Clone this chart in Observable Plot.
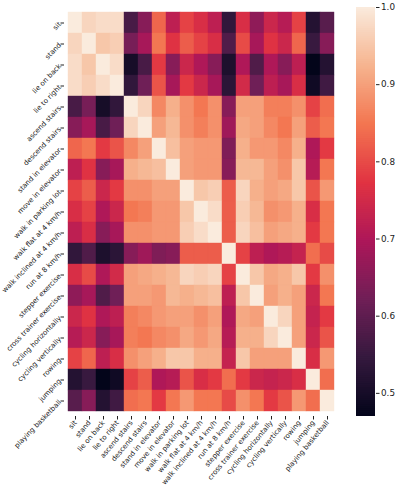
<!DOCTYPE html>
<html>
<head>
<meta charset="utf-8">
<script src="https://cdn.jsdelivr.net/npm/d3@7"></script>
<script src="https://cdn.jsdelivr.net/npm/@observablehq/plot@0.6"></script>
<style>
  body { margin: 0; background: #fff; }
  #wrap { position: relative; width: 399px; height: 489px; }
  #wrap svg { position: absolute; left: 0; top: 0; }
</style>
</head>
<body>
<div id="wrap"></div>
<script>
const labels = ["sit", "stand", "lie on back", "lie to right", "ascend stairs", "descend stairs",
  "stand in elevator", "move in elevator", "walk in parking lot", "walk flat at 4 km/h",
  "walk inclined at 4 km/h", "run at 8 km/h", "stepper exercise", "cross trainer exercise",
  "cycling horizontally", "cycling vertically", "rowing", "jumping", "playing basketball"];

const corr = [
  [1.00, 0.97, 0.98, 0.98, 0.57, 0.65, 0.83, 0.72, 0.79, 0.76, 0.72, 0.54, 0.76, 0.66, 0.74, 0.71, 0.79, 0.52, 0.59],
  [0.97, 1.00, 0.95, 0.96, 0.63, 0.69, 0.85, 0.77, 0.82, 0.79, 0.76, 0.58, 0.80, 0.69, 0.77, 0.74, 0.83, 0.55, 0.65],
  [0.98, 0.95, 1.00, 0.98, 0.50, 0.57, 0.78, 0.65, 0.74, 0.70, 0.65, 0.51, 0.70, 0.58, 0.70, 0.65, 0.72, 0.47, 0.52],
  [0.98, 0.96, 0.98, 1.00, 0.54, 0.62, 0.81, 0.69, 0.78, 0.74, 0.69, 0.53, 0.75, 0.62, 0.72, 0.69, 0.76, 0.49, 0.56],
  [0.57, 0.63, 0.50, 0.54, 1.00, 0.97, 0.87, 0.92, 0.88, 0.85, 0.88, 0.65, 0.90, 0.90, 0.86, 0.86, 0.88, 0.79, 0.84],
  [0.65, 0.69, 0.57, 0.62, 0.97, 1.00, 0.90, 0.93, 0.88, 0.86, 0.88, 0.68, 0.91, 0.90, 0.87, 0.85, 0.90, 0.82, 0.85],
  [0.83, 0.85, 0.78, 0.81, 0.87, 0.90, 1.00, 0.94, 0.90, 0.89, 0.89, 0.64, 0.92, 0.89, 0.89, 0.87, 0.92, 0.70, 0.78],
  [0.72, 0.77, 0.65, 0.69, 0.92, 0.93, 0.94, 1.00, 0.90, 0.89, 0.89, 0.65, 0.93, 0.93, 0.90, 0.88, 0.95, 0.71, 0.85],
  [0.79, 0.82, 0.74, 0.78, 0.88, 0.88, 0.90, 0.90, 1.00, 0.95, 0.96, 0.82, 0.97, 0.92, 0.90, 0.91, 0.95, 0.81, 0.89],
  [0.76, 0.79, 0.70, 0.74, 0.85, 0.86, 0.89, 0.89, 0.95, 1.00, 0.98, 0.82, 0.96, 0.93, 0.88, 0.89, 0.92, 0.76, 0.85],
  [0.72, 0.76, 0.65, 0.69, 0.88, 0.88, 0.89, 0.89, 0.96, 0.98, 1.00, 0.82, 0.97, 0.94, 0.90, 0.91, 0.92, 0.78, 0.85],
  [0.54, 0.58, 0.51, 0.53, 0.65, 0.68, 0.64, 0.65, 0.82, 0.82, 0.82, 1.00, 0.79, 0.72, 0.70, 0.71, 0.73, 0.84, 0.80],
  [0.76, 0.80, 0.70, 0.75, 0.90, 0.91, 0.92, 0.93, 0.97, 0.96, 0.97, 0.79, 1.00, 0.95, 0.91, 0.92, 0.95, 0.78, 0.88],
  [0.66, 0.69, 0.58, 0.62, 0.90, 0.90, 0.89, 0.93, 0.92, 0.93, 0.94, 0.72, 0.95, 1.00, 0.90, 0.92, 0.90, 0.74, 0.85],
  [0.74, 0.77, 0.70, 0.72, 0.86, 0.87, 0.89, 0.90, 0.90, 0.88, 0.90, 0.70, 0.91, 0.90, 1.00, 0.97, 0.90, 0.73, 0.78],
  [0.71, 0.74, 0.65, 0.69, 0.86, 0.85, 0.87, 0.88, 0.91, 0.89, 0.91, 0.71, 0.92, 0.92, 0.97, 1.00, 0.90, 0.74, 0.81],
  [0.79, 0.83, 0.72, 0.76, 0.88, 0.90, 0.92, 0.95, 0.95, 0.92, 0.92, 0.73, 0.95, 0.90, 0.90, 0.90, 1.00, 0.76, 0.89],
  [0.52, 0.55, 0.47, 0.49, 0.79, 0.82, 0.70, 0.71, 0.81, 0.76, 0.78, 0.84, 0.78, 0.74, 0.73, 0.74, 0.76, 1.00, 0.84],
  [0.59, 0.65, 0.52, 0.56, 0.84, 0.85, 0.78, 0.85, 0.89, 0.85, 0.85, 0.80, 0.88, 0.85, 0.78, 0.81, 0.89, 0.84, 1.00]
];

const colorTicks = [0.5, 0.6, 0.7, 0.8, 0.9, 1.0];
const colorDomain = [0.47, 1.0];
const rocketStops = ["#03051a", "#35193e", "#701f57", "#ad1759", "#e13342", "#f37651", "#f6b48f", "#faebdd"];
const rocket = d3.piecewise(d3.interpolateRgb, rocketStops);

const cells = corr.flatMap((row, i) => row.map((v, j) => ({row: labels[i], col: labels[j], v})));

const colorOpts = {type: "linear", domain: colorDomain, interpolate: rocket};
const font = {fontFamily: "'DejaVu Sans', sans-serif", fontSize: "7px", color: "#222", background: "transparent", overflow: "visible"};

const main = Plot.plot({
  width: 399, height: 489,
  marginLeft: 64, marginRight: 61, marginTop: 7, marginBottom: 73,
  style: font,
  x: {domain: labels, padding: 0, tickRotate: -50, tickSize: 3.5, tickPadding: 1.5, label: null},
  y: {domain: labels, padding: 0, tickRotate: -46, tickSize: 3.5, tickPadding: 1, label: null},
  color: colorOpts,
  marks: [
    Plot.cell(cells, {x: "col", y: "row", fill: "v", stroke: "v", strokeWidth: 0.4})
  ]
});

const step = 0.0025;
const bands = d3.range(colorDomain[0], colorDomain[1], step);
const bar = Plot.plot({
  width: 399, height: 489,
  marginLeft: 356, marginRight: 24, marginTop: 7, marginBottom: 73,
  style: {...font, fontSize: "8.8px"},
  x: {domain: [0, 1], axis: null},
  y: {domain: colorDomain, axis: "right", ticks: colorTicks, tickFormat: d3.format(".1f"), tickSize: 3.5, tickPadding: 2, label: null},
  color: colorOpts,
  marks: [
    Plot.rect(bands, {x1: 0, x2: 1, y1: d => d, y2: d => Math.min(d + step * 1.5, colorDomain[1]), fill: d => d + step / 2})
  ]
});

const wrap = document.getElementById("wrap");
wrap.appendChild(main);
wrap.appendChild(bar);
</script>
</body>
</html>
